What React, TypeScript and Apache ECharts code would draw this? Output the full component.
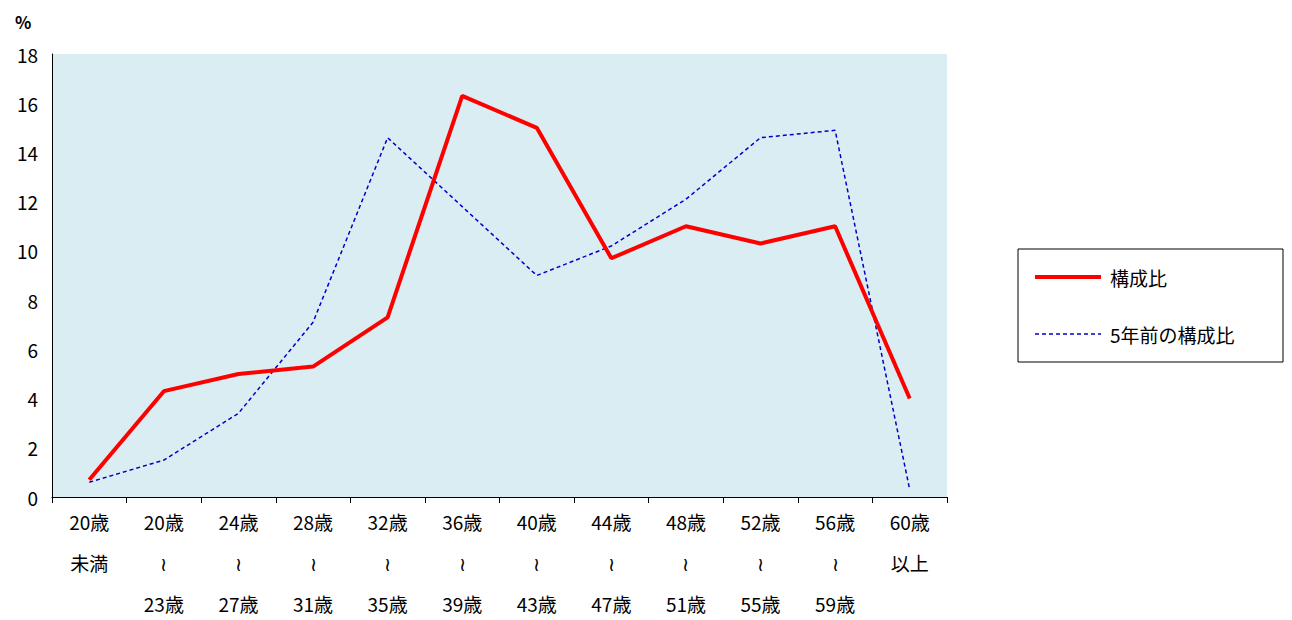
import React, { useEffect, useRef } from 'react';
import * as echarts from 'echarts';

const categories = [
  '20歳\n未満', '20歳\n≀\n23歳', '24歳\n≀\n27歳', '28歳\n≀\n31歳', '32歳\n≀\n35歳', '36歳\n≀\n39歳',
  '40歳\n≀\n43歳', '44歳\n≀\n47歳', '48歳\n≀\n51歳', '52歳\n≀\n55歳', '56歳\n≀\n59歳', '60歳\n以上',
];
const current = [0.7, 4.3, 5.0, 5.3, 7.3, 16.3, 15.0, 9.7, 11.0, 10.3, 11.0, 4.0];
const fiveYearsAgo = [0.6, 1.5, 3.4, 7.1, 14.6, 11.8, 9.0, 10.2, 12.1, 14.6, 14.9, 0.3];
const seriesNames = ['構成比', '5年前の構成比'];

const font = '"Noto Sans CJK JP", sans-serif';
const red = '#ff0000';
const blue = '#0000cc';

const App: React.FC = () => {
  const chartRef = useRef<HTMLDivElement>(null);

  useEffect(() => {
    if (!chartRef.current) return;
    const chart = echarts.init(chartRef.current, null, { renderer: 'svg' });
    chart.setOption({
      animation: false,
      textStyle: { fontFamily: font },
      grid: {
        left: 44, right: 337, top: 46, bottom: 123,
        show: true, backgroundColor: '#daedf2', borderWidth: 0,
        containLabel: false, outerBoundsMode: 'none',
      },
      graphic: [
        { type: 'text', left: 7, top: 5, style: { text: '%', fontSize: 17, fontWeight: 'bold', fontFamily: font, fill: '#000' } },
        { type: 'rect', shape: { x: 1010, y: 241, width: 265, height: 113 }, style: { fill: '#fff', stroke: '#000', lineWidth: 1 } },
        { type: 'line', shape: { x1: 1027, y1: 269, x2: 1093, y2: 269 }, style: { stroke: red, lineWidth: 4 } },
        { type: 'text', x: 1102, y: 269, style: { text: seriesNames[0], fontSize: 19, fontFamily: font, fill: '#000', verticalAlign: 'middle' } },
        { type: 'line', shape: { x1: 1027, y1: 326, x2: 1093, y2: 326 }, style: { stroke: blue, lineWidth: 1.5, lineDash: [4, 3] } },
        { type: 'text', x: 1102, y: 326, style: { text: seriesNames[1], fontSize: 19, fontFamily: font, fill: '#000', verticalAlign: 'middle' } },
      ],
      xAxis: {
        type: 'category',
        data: categories,
        axisLine: { lineStyle: { color: '#000' } },
        axisTick: { show: true, length: 6, lineStyle: { color: '#000' } },
        axisLabel: { color: '#000', fontSize: 19, lineHeight: 41, margin: 4, interval: 0, verticalAlign: 'top' },
      },
      yAxis: {
        type: 'value', min: 0, max: 18, interval: 2,
        splitLine: { show: false },
        axisLine: { show: true, lineStyle: { color: '#000' } },
        axisTick: { show: false },
        axisLabel: { color: '#000', fontSize: 19, margin: 14 },
      },
      series: [
        {
          name: seriesNames[0], type: 'line', data: current, symbol: 'none',
          lineStyle: { color: red, width: 4 }, itemStyle: { color: red }, z: 3,
        },
        {
          name: seriesNames[1], type: 'line', data: fiveYearsAgo, symbol: 'none',
          lineStyle: { color: blue, width: 1.5, type: [4, 3] }, itemStyle: { color: blue }, z: 2,
        },
      ],
    });
    return () => chart.dispose();
  }, []);

  return <div ref={chartRef} style={{ width: 1276, height: 612 }} />;
};

export default App;
